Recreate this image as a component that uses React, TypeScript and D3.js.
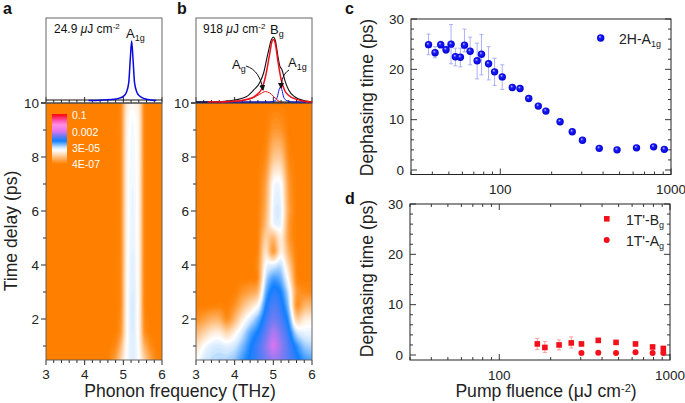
import React, { useMemo } from "react";
import * as d3 from "d3";

// ---------- data ----------
const fluenceC = [38, 41.5, 44.8, 48.1, 51.5, 54.6, 58.4, 61.7, 66.6, 73.2, 77.6, 85.4, 92.6, 102.7, 117.6, 130.5, 146.8, 167, 185, 224, 264, 303, 380, 483, 628, 791, 914];
const dephasing2H = [24.9, 23.3, 24.9, 23.9, 25.0, 22.5, 22.4, 24.8, 23.6, 21.7, 23.0, 21.1, 19.5, 18.5, 16.4, 16.2, 14.2, 12.7, 11.7, 9.6, 7.6, 5.9, 4.3, 4.0, 4.4, 4.6, 4.1];
const err2HHi = [27, 24.5, 25.6, 24.6, 28.9, 24.2, 24.2, 28, 26.4, 25.2, 26.9, 24.5, 22.2, 20.9, 16.8, 16.6, 14.6, 13, 12, 9.9, 7.9, 6.2, 4.6, 4.3, 4.7, 4.9, 4.4];
const err2HLo = [22.9, 22.3, 24.2, 23.2, 21.1, 20.7, 20.5, 23.5, 20.9, 18.1, 18.9, 17.9, 16.8, 16, 16, 15.8, 13.8, 12.4, 11.4, 9.3, 7.3, 5.6, 4, 3.7, 4.1, 4.3, 3.8];

const fluenceBg = [167, 185, 224, 264, 303, 380, 483, 628, 791, 914];
const dephasingBg = [2.2, 1.5, 2.0, 2.4, 2.2, 2.9, 2.5, 2.2, 1.6, 1.3];
const errBgHi = [3.3, 2.7, 3.0, 3.6, 2.6, 3.3, 2.9, 2.6, 2.0, 1.7];
const errBgLo = [1.1, 0.5, 1.0, 1.4, 1.8, 2.5, 2.1, 1.8, 1.2, 0.9];
const fluenceAg = [303, 380, 483, 628, 791, 914];
const dephasingAg = [0.4, 0.45, 0.4, 0.55, 0.4, 0.4];

const specAF = [4.1, 4.4, 4.7, 4.9, 5.0, 5.08, 5.14, 5.18, 5.215, 5.25, 5.29, 5.35, 5.43, 5.55, 5.7, 5.85];
const specA = [0, 0.005, 0.015, 0.04, 0.07, 0.14, 0.3, 0.7, 1, 0.7, 0.3, 0.14, 0.07, 0.03, 0.01, 0];

const specBTotalF = [3, 3.6, 4, 4.3, 4.5, 4.65, 4.75, 4.85, 4.95, 5.0, 5.05, 5.12, 5.17, 5.22, 5.3, 5.4, 5.55, 5.8, 6];
const specBTotal = [0, 0.005, 0.03, 0.08, 0.19, 0.3, 0.45, 0.72, 0.96, 1, 0.95, 0.7, 0.55, 0.5, 0.33, 0.18, 0.08, 0.02, 0.005];
const specBgF = [3.3, 4, 4.3, 4.5, 4.7, 4.8, 4.9, 4.97, 5.0, 5.05, 5.12, 5.2, 5.3, 5.4, 5.6, 5.8, 6];
const specBg = [0, 0.01, 0.04, 0.08, 0.2, 0.4, 0.72, 0.94, 0.96, 0.9, 0.62, 0.35, 0.17, 0.1, 0.04, 0.01, 0];
const specAgF = [3.6, 4, 4.3, 4.5, 4.65, 4.8, 4.9, 5.0, 5.1, 5.15, 5.2];
const specAg = [0, 0.01, 0.03, 0.07, 0.12, 0.16, 0.14, 0.09, 0.03, 0.01, 0];
const specA1gF = [3, 4.9, 5.05, 5.1, 5.15, 5.18, 5.22, 5.27, 5.35, 5.5, 6];
const specA1g = [0, 0, 0.02, 0.07, 0.19, 0.23, 0.19, 0.07, 0.02, 0, 0];

const heatAFreq = [3, 4.6, 4.8, 4.95, 5.05, 5.12, 5.24, 5.36, 5.45, 5.52, 5.7, 5.85, 6];
const heatATime = [0.48, 1, 1.5, 2.5, 5, 8, 9.5, 10];
const heatA = [
  [0, 0, 0.08, 0.2, 0.27, 0.29, 0.32, 0.29, 0.26, 0.2, 0.09, 0.02, 0],
  [0, 0, 0.02, 0.13, 0.26, 0.29, 0.325, 0.29, 0.24, 0.12, 0.03, 0, 0],
  [0, 0, 0, 0.05, 0.24, 0.285, 0.33, 0.285, 0.22, 0.04, 0, 0, 0],
  [0, 0, 0, 0.02, 0.24, 0.285, 0.335, 0.285, 0.22, 0.01, 0, 0, 0],
  [0, 0, 0, 0.02, 0.23, 0.28, 0.31, 0.28, 0.22, 0.01, 0, 0, 0],
  [0, 0, 0, 0.02, 0.23, 0.275, 0.295, 0.275, 0.22, 0.01, 0, 0, 0],
  [0, 0, 0, 0.02, 0.22, 0.27, 0.285, 0.27, 0.22, 0.01, 0, 0, 0],
  [0, 0, 0, 0.01, 0.2, 0.25, 0.26, 0.25, 0.2, 0.01, 0, 0, 0],
];

const heatBFreq = [3, 3.2, 3.4, 3.6, 3.8, 4, 4.2, 4.4, 4.6, 4.8, 5, 5.2, 5.4, 5.6, 5.8, 6];
const heatBTime = [0.48, 1, 1.5, 2, 2.5, 3, 3.5, 4, 4.5, 5, 5.5, 6, 7, 8, 9, 10];
const heatB = [
  [0.27, 0.33, 0.35, 0.36, 0.36, 0.38, 0.44, 0.48, 0.52, 0.56, 0.6, 0.58, 0.54, 0.49, 0.44, 0.42],
  [0.2, 0.28, 0.32, 0.33, 0.31, 0.33, 0.39, 0.46, 0.52, 0.59, 0.67, 0.6, 0.53, 0.45, 0.37, 0.35],
  [0.12, 0.18, 0.23, 0.25, 0.18, 0.25, 0.33, 0.42, 0.47, 0.55, 0.63, 0.57, 0.5, 0.33, 0.3, 0.3],
  [0.03, 0.07, 0.11, 0.12, 0.01, 0.12, 0.24, 0.32, 0.4, 0.51, 0.57, 0.53, 0.45, 0.14, 0.24, 0.25],
  [0, 0, 0, 0.01, 0, 0.04, 0.13, 0.2, 0.26, 0.47, 0.54, 0.5, 0.39, 0, 0.12, 0.13],
  [0, 0, 0, 0, 0, 0, 0.05, 0.08, 0.1, 0.42, 0.5, 0.47, 0.34, 0.05, 0.03, 0.02],
  [0, 0, 0, 0, 0, 0, 0, 0, 0, 0.36, 0.44, 0.41, 0.26, 0, 0, 0],
  [0, 0, 0, 0, 0, 0, 0, 0, 0.02, 0.3, 0.32, 0.36, 0.18, 0, 0, 0],
  [0, 0, 0, 0, 0, 0, 0, 0, 0, 0.26, 0, 0.28, 0.1, 0, 0, 0],
  [0, 0, 0, 0, 0, 0, 0, 0, 0, 0.2, 0.1, 0.27, 0.05, 0, 0, 0],
  [0, 0, 0, 0, 0, 0, 0, 0, 0, 0.13, 0.31, 0.32, 0.05, 0, 0, 0],
  [0, 0, 0, 0, 0, 0, 0, 0, 0, 0.1, 0.32, 0.33, 0.07, 0, 0, 0],
  [0, 0, 0, 0, 0, 0, 0, 0, 0, 0.07, 0.3, 0.3, 0.05, 0, 0, 0],
  [0, 0, 0, 0, 0, 0, 0, 0, 0, 0.02, 0.16, 0.17, 0.01, 0, 0, 0],
  [0, 0, 0, 0, 0, 0, 0, 0, 0, 0, 0.06, 0.05, 0, 0, 0, 0],
  [0, 0, 0, 0, 0, 0, 0, 0, 0, 0, 0, 0, 0, 0, 0, 0],
];

const colorStops = [0, 0.27, 0.33, 0.46, 0.57, 0.66, 0.78, 0.87, 1];
const colorValues = ["#ff8000", "#ffffff", "#cfe6ff", "#0f80ff", "#7c7cf2", "#e474f0", "#ff90e4", "#ff50b0", "#ff0000"];
const colorbarLabels = ["0.1", "0.002", "3E-05", "4E-07"];

// ---------- helpers ----------
const FONT = "'Liberation Sans', Arial, sans-serif";
const TICK = 13.5;
const TITLE = 17.6;
const heatColor = d3.scaleLinear<string>().domain(colorStops).range(colorValues).clamp(true);
const fx = (a: number) => d3.scaleLinear().domain([3, 6]).range([a, a + 116]);
const HEAT_TOP = 103;
const HEAT_BOTTOM = 360;
const timeY = d3.scaleLinear().domain([10, 2]).range([103, 319]);
const specLine = (x: any, y: any) =>
  d3.line<[number, number]>().x((d) => x(d[0])).y((d) => y(d[1])).curve(d3.curveMonotoneX);
const zipped = (a: number[], b: number[]) => a.map((v, i) => [v, b[i]] as [number, number]);

function bracket(arr: number[], v: number): [number, number] {
  const i = Math.min(arr.length - 2, Math.max(0, d3.bisectRight(arr, v) - 1));
  return [i, Math.min(1, Math.max(0, (v - arr[i]) / (arr[i + 1] - arr[i])))];
}

function Heat({ left, freq, time, grid, blur }: { left: number; freq: number[]; time: number[]; grid: number[][]; blur: number }) {
  const paths = useMemo(() => {
    const w = 116;
    const h = HEAT_BOTTOM - HEAT_TOP;
    const data = new Float64Array(w * h);
    for (let j = 0; j < h; j++) {
      const t = timeY.invert(HEAT_TOP + j + 0.5);
      const [ti, tf] = bracket(time, t);
      for (let i = 0; i < w; i++) {
        const f = 3 + ((i + 0.5) / w) * 3;
        const [fi, ff] = bracket(freq, f);
        const a = grid[ti][fi] * (1 - ff) + grid[ti][fi + 1] * ff;
        const b = grid[ti + 1][fi] * (1 - ff) + grid[ti + 1][fi + 1] * ff;
        data[j * w + i] = a * (1 - tf) + b * tf;
      }
    }
    d3.blur2({ data, width: w, height: h }, blur);
    const levels = d3.range(0.006, 0.72, 0.012);
    const gen = d3.geoPath();
    return d3.contours().size([w, h]).thresholds(levels)(Array.from(data)).map((c) => ({ d: gen(c) as string, v: c.value }));
  }, []);
  return (
    <g transform={`translate(${left},${HEAT_TOP})`}>
      <rect width={116} height={HEAT_BOTTOM - HEAT_TOP} fill={colorValues[0]} />
      {paths.map((p, i) => (
        <path key={i} d={p.d} fill={heatColor(p.v)} />
      ))}
    </g>
  );
}

function HeatAxes({ left }: { left: number }) {
  const x = fx(left);
  const xminor = d3.range(3, 6.01, 0.2);
  const tminor = d3.range(1, 10.01, 1);
  return (
    <g stroke="#111" strokeWidth={0.9}>
      {xminor.map((v, i) => {
        const maj = Math.abs(v - Math.round(v)) < 0.01;
        return (
          <g key={i}>
            <line x1={x(v)} x2={x(v)} y1={360} y2={maj ? 365 : 363} />
            <line x1={x(v)} x2={x(v)} y1={103} y2={maj ? 97 : 100} />
          </g>
        );
      })}
      {tminor.map((v) => (
        <line key={v} x1={left} x2={left - (v % 2 === 0 ? 5 : 3)} y1={timeY(v)} y2={timeY(v)} />
      ))}
      <line x1={left - 5} x2={left + 116} y1={103} y2={103} strokeWidth={1.2} />
      <line x1={left} x2={left + 116} y1={360} y2={360} stroke="#555" />
      <line x1={left} x2={left} y1={103} y2={360} stroke="#555" />
      <line x1={left + 116} x2={left + 116} y1={103} y2={360} stroke="#555" />
      {[3, 4, 5, 6].map((v) => (
        <text key={v} x={x(v)} y={378.5} textAnchor="middle" fontSize={TICK} stroke="none" fill="#222" fontFamily={FONT}>
          {v}
        </text>
      ))}
      {[2, 4, 6, 8, 10].map((v) => (
        <text key={v} x={left - 7} y={timeY(v) + 4.8} textAnchor="end" fontSize={TICK} stroke="none" fill="#222" fontFamily={FONT}>
          {v}
        </text>
      ))}
      <rect x={left} y={18} width={116} height={85} fill="none" stroke="#666" strokeWidth={1} />
    </g>
  );
}

function Sub({ x, y, base, sub, size, subSize, fill = "#111" }: { x: number; y: number; base: string; sub: string; size: number; subSize: number; fill?: string }) {
  return (
    <text x={x} y={y} fontSize={size} fill={fill} fontFamily={FONT}>
      {base}
      <tspan fontSize={subSize} dy={3}>
        {sub}
      </tspan>
    </text>
  );
}

function RightAxes({ left, top, bottom, y, x, topTicks }: { left: number; top: number; bottom: number; y: any; x: any; topTicks: boolean }) {
  const logTicks = (x.ticks() as number[]).filter((v) => v >= 30 && v <= 1000);
  const yTicks = d3.range(0, 30.01, 2);
  const right = left + 260;
  return (
    <g stroke="#222" strokeWidth={0.9}>
      <rect x={left} y={top} width={260} height={bottom - top} fill="none" stroke="#222" strokeWidth={1} />
      {logTicks.map((v) => {
        const maj = v === 100 || v === 1000;
        return (
          <g key={v}>
            <line x1={x(v)} x2={x(v)} y1={bottom} y2={bottom - (maj ? 6 : 3)} />
            {topTicks ? <line x1={x(v)} x2={x(v)} y1={top} y2={top + (maj ? 6 : 3)} /> : null}
          </g>
        );
      })}
      {yTicks.map((v) => {
        const maj = v % 10 === 0;
        return (
          <g key={v}>
            <line x1={left} x2={left + (maj ? 6 : 3)} y1={y(v)} y2={y(v)} />
            <line x1={right} x2={right - (maj ? 6 : 3)} y1={y(v)} y2={y(v)} />
          </g>
        );
      })}
      {[0, 10, 20, 30].map((v) => (
        <text key={v} x={left - 7} y={y(v) + 4.8} textAnchor="end" fontSize={TICK} stroke="none" fill="#222" fontFamily={FONT}>
          {v}
        </text>
      ))}
      {[100, 1000].map((v) => (
        <text key={v} x={x(v)} y={bottom + 19.5} textAnchor="middle" fontSize={TICK} stroke="none" fill="#222" fontFamily={FONT}>
          {v}
        </text>
      ))}
    </g>
  );
}

function ErrBars({ xs, hi, lo, x, y, color }: { xs: number[]; hi: number[]; lo: number[]; x: any; y: any; color: string }) {
  return (
    <g stroke={color} strokeWidth={1}>
      {xs.map((v, i) => (
        <g key={i}>
          <line x1={x(v)} x2={x(v)} y1={y(hi[i])} y2={y(lo[i])} />
          <line x1={x(v) - 2} x2={x(v) + 2} y1={y(hi[i])} y2={y(hi[i])} />
          <line x1={x(v) - 2} x2={x(v) + 2} y1={y(lo[i])} y2={y(lo[i])} />
        </g>
      ))}
    </g>
  );
}

export default function App() {
  const xA = fx(46);
  const xB = fx(196);
  const yA = d3.scaleLinear().domain([0, 1]).range([100.5, 41]);
  const yB = d3.scaleLinear().domain([0, 1]).range([102, 37]);
  const xC = d3.scaleLog().domain([30, 1000]).range([411, 671]);
  const yC = d3.scaleLinear().domain([0, 30]).range([170, 19]);
  const xD = d3.scaleLog().domain([30, 1000]).range([410, 670]);
  const yD = d3.scaleLinear().domain([0, 30]).range([355, 204]);
  const barScale = d3.scaleLinear().domain([0, 1]).range([164, 114]);
  const barSteps = d3.range(0, 1, 0.02);

  return (
    <svg width={685} height={403} style={{ position: "absolute", left: 0, top: 0, background: "#fff" }} fontFamily={FONT}>
      <defs>
        <radialGradient id="ball" cx="50%" cy="50%" r="55%" fx="38%" fy="32%">
          <stop offset="0%" stopColor="#c8c8ff" />
          <stop offset="35%" stopColor="#1a1aff" />
          <stop offset="100%" stopColor="#0000c8" />
        </radialGradient>
        <marker id="ah" viewBox="0 0 6 6" refX="5" refY="3" markerWidth="6" markerHeight="6" orient="auto">
          <path d="M0,0L6,3L0,6Z" fill="#111" />
        </marker>
      </defs>

      {/* panel letters */}
      {[["a", 3, 14], ["b", 177, 14], ["c", 345, 14], ["d", 345, 204]].map(([t, x, y]) => (
        <text key={t as string} x={x as number} y={y as number} fontSize={16} fontWeight="bold" fill="#111" fontFamily={FONT}>
          {t}
        </text>
      ))}

      {/* heatmaps */}
      <Heat left={46} freq={heatAFreq} time={heatATime} grid={heatA} blur={1} />
      <Heat left={196} freq={heatBFreq} time={heatBTime} grid={heatB} blur={1.2} />

      {/* colorbar */}
      {barSteps.map((v) => (
        <rect key={v} x={52} width={15} y={barScale(v + 0.02)} height={1.4} fill={heatColor(v)} />
      ))}
      {colorbarLabels.map((l, i) => (
        <text key={l} x={72} y={[119, 136, 152, 168][i]} fontSize={10.5} fill="#fff" fontFamily={FONT}>
          {l}
        </text>
      ))}

      <HeatAxes left={46} />
      <HeatAxes left={196} />
      <line x1={46} x2={162} y1={100} y2={100} stroke="#111" strokeWidth={1} />
      <line x1={196} x2={312} y1={102} y2={102} stroke="#111" strokeWidth={1} />

      {/* spectra */}
      <path d={specLine(xA, yA)(zipped(specAF, specA)) as string} fill="none" stroke="#0a0ae0" strokeWidth={1.5} />
      <path d={specLine(xB, yB)(zipped(specA1gF, specA1g)) as string} fill="none" stroke="#1010f0" strokeWidth={1} />
      <path d={specLine(xB, yB)(zipped(specAgF, specAg)) as string} fill="none" stroke="#e8101a" strokeWidth={1} />
      <path d={specLine(xB, yB)(zipped(specBTotalF, specBTotal)) as string} fill="none" stroke="#111" strokeWidth={1.1} />
      <path d={specLine(xB, yB)(zipped(specBgF, specBg)) as string} fill="none" stroke="#f0101a" strokeWidth={1.5} />

      {/* spectra labels */}
      <text x={54} y={33} fontSize={12} fill="#111">
        24.9 <tspan fontStyle="italic">μ</tspan>J cm<tspan fontSize={8} dy={-4}>-2</tspan>
      </text>
      <Sub x={126} y={38} base="A" sub="1g" size={13} subSize={9} />
      <text x={203} y={33} fontSize={12} fill="#111">
        918 <tspan fontStyle="italic">μ</tspan>J cm<tspan fontSize={8} dy={-4}>-2</tspan>
      </text>
      <Sub x={270} y={34} base="B" sub="g" size={13} subSize={9} />
      <Sub x={232} y={69} base="A" sub="g" size={13} subSize={9} />
      <Sub x={288} y={67} base="A" sub="1g" size={13} subSize={9} />
      <path d="M246,66 C256,69 261,78 263,90" fill="none" stroke="#111" strokeWidth={1} markerEnd="url(#ah)" />
      <path d="M289,70 C284,73 281,80 281,88" fill="none" stroke="#111" strokeWidth={1} markerEnd="url(#ah)" />

      {/* heat axis titles */}
      <text transform="translate(17,231) rotate(-90)" textAnchor="middle" fontSize={TITLE} fill="#222">
        Time delay (ps)
      </text>
      <text x={180} y={397} textAnchor="middle" fontSize={TITLE} fill="#222">
        Phonon frequency (THz)
      </text>

      {/* panel c */}
      <ErrBars xs={fluenceC} hi={err2HHi} lo={err2HLo} x={xC} y={yC} color="#aab0f6" />
      <RightAxes left={411} top={19} bottom={174.5} x={xC} y={yC} topTicks={false} />
      {fluenceC.map((v, i) => (
        <circle key={i} cx={xC(v)} cy={yC(dephasing2H[i])} r={3.7} fill="url(#ball)" />
      ))}
      <circle cx={600.7} cy={38} r={3.7} fill="url(#ball)" />
      <Sub x={619} y={44} base="2H-A" sub="1g" size={14} subSize={9} fill="#222" />
      <text transform="translate(373,97.5) rotate(-90)" textAnchor="middle" fontSize={TITLE} fill="#222">
        Dephasing time (ps)
      </text>

      {/* panel d */}
      <ErrBars xs={fluenceBg} hi={errBgHi} lo={errBgLo} x={xD} y={yD} color="#ff9c9c" />
      <RightAxes left={410} top={204} bottom={360} x={xD} y={yD} topTicks={true} />
      {fluenceBg.map((v, i) => (
        <rect key={i} x={xD(v) - 2.8} y={yD(dephasingBg[i]) - 2.8} width={5.6} height={5.6} fill="#f4101a" />
      ))}
      {fluenceAg.map((v, i) => (
        <circle key={i} cx={xD(v)} cy={yD(dephasingAg[i])} r={3} fill="#f4101a" />
      ))}
      <rect x={604} y={216} width={5.6} height={5.6} fill="#f4101a" />
      <circle cx={606.7} cy={240} r={3} fill="#f4101a" />
      <Sub x={626} y={225} base="1T'-B" sub="g" size={14} subSize={9} fill="#222" />
      <Sub x={626} y={246} base="1T'-A" sub="g" size={14} subSize={9} fill="#222" />
      <text transform="translate(373,278.5) rotate(-90)" textAnchor="middle" fontSize={TITLE} fill="#222">
        Dephasing time (ps)
      </text>
      <text x={546} y={397} textAnchor="middle" fontSize={TITLE} fill="#222">
        Pump fluence (μJ cm<tspan fontSize={11} dy={-5}>-2</tspan>
        <tspan dy={5}>)</tspan>
      </text>
    </svg>
  );
}
